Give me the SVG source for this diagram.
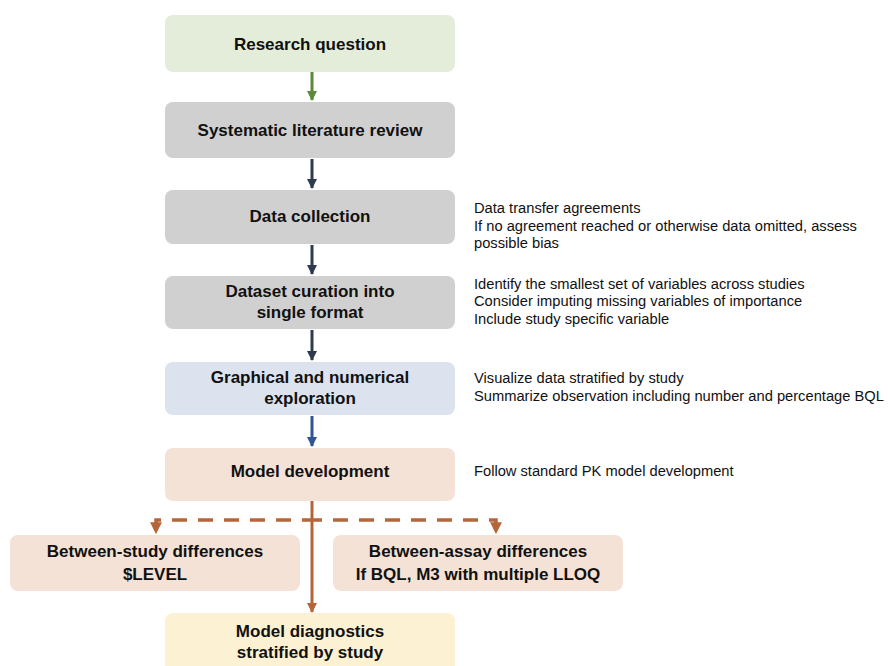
<svg xmlns="http://www.w3.org/2000/svg" width="888" height="666" viewBox="0 0 888 666">
<defs>
<style>
.box{stroke:none}
.t{font-family:"Liberation Sans",Arial,sans-serif;font-weight:bold;font-size:17px;fill:#111;text-anchor:middle}
.n{font-family:"Liberation Sans",Arial,sans-serif;font-size:14.7px;fill:#111}
.g{fill:#e3edd9}.gr{fill:#d0d0d0}.b{fill:#dce3ee}.p{fill:#f5e2d6}.y{fill:#fcf1d2}
</style>
<marker id="ag" viewBox="0 0 10 10" refX="9" refY="5" markerWidth="3.4" markerHeight="3.4" orient="auto" markerUnits="strokeWidth"><path d="M0,0L10,5L0,10z" fill="#5a8a3a"/></marker>
<marker id="ad" viewBox="0 0 10 10" refX="9" refY="5" markerWidth="3.4" markerHeight="3.4" orient="auto" markerUnits="strokeWidth"><path d="M0,0L10,5L0,10z" fill="#2e3a4f"/></marker>
<marker id="ab" viewBox="0 0 10 10" refX="9" refY="5" markerWidth="3.4" markerHeight="3.4" orient="auto" markerUnits="strokeWidth"><path d="M0,0L10,5L0,10z" fill="#2f5597"/></marker>
<marker id="ao" viewBox="0 0 10 10" refX="9" refY="5" markerWidth="3.4" markerHeight="3.4" orient="auto" markerUnits="strokeWidth"><path d="M0,0L10,5L0,10z" fill="#b5653a"/></marker>
</defs>
<rect width="888" height="666" fill="#ffffff"/>
<g id="connectors" fill="none" stroke-width="3">
<path d="M312,72V100" stroke="#5a8a3a" marker-end="url(#ag)"/>
<path d="M312,159V188" stroke="#2e3a4f" marker-end="url(#ad)"/>
<path d="M312,245V274" stroke="#2e3a4f" marker-end="url(#ad)"/>
<path d="M312,330V360" stroke="#2e3a4f" marker-end="url(#ad)"/>
<path d="M312,416V446" stroke="#2f5597" marker-end="url(#ab)"/>
<path d="M312,501V612" stroke="#b5653a" marker-end="url(#ao)"/>
<path d="M312,520H156V533" stroke="#b5653a" stroke-width="3.5" stroke-dasharray="15 11" stroke-dashoffset="5" marker-end="url(#ao)"/>
<path d="M312,520H496V533" stroke="#b5653a" stroke-width="3.5" stroke-dasharray="15 11" stroke-dashoffset="5" marker-end="url(#ao)"/>
</g>
<g id="research"><rect class="box g" x="165" y="15" width="290" height="57" rx="8"/><text class="t" x="310" y="50">Research question</text></g>
<g id="review"><rect class="box gr" x="165" y="102" width="290" height="56" rx="8"/><text class="t" x="310" y="136">Systematic literature review</text></g>
<g id="collection"><rect class="box gr" x="165" y="190" width="290" height="54" rx="8"/><text class="t" x="310" y="222">Data collection</text>
<text class="n" x="474" y="213">Data transfer agreements</text>
<text class="n" x="474" y="231">If no agreement reached or otherwise data omitted, assess</text>
<text class="n" x="474" y="248">possible bias</text></g>
<g id="curation"><rect class="box gr" x="165" y="276" width="290" height="53" rx="8"/><text class="t" x="310" y="297">Dataset curation into</text><text class="t" x="310" y="318">single format</text>
<text class="n" x="474" y="289">Identify the smallest set of variables across studies</text>
<text class="n" x="474" y="306">Consider imputing missing variables of importance</text>
<text class="n" x="474" y="324">Include study specific variable</text></g>
<g id="exploration"><rect class="box b" x="165" y="362" width="290" height="53" rx="8"/><text class="t" x="310" y="383">Graphical and numerical</text><text class="t" x="310" y="404">exploration</text>
<text class="n" x="474" y="383">Visualize data stratified by study</text>
<text class="n" x="474" y="401">Summarize observation including number and percentage BQL</text></g>
<g id="development"><rect class="box p" x="165" y="448" width="290" height="53" rx="8"/><text class="t" x="310" y="477">Model development</text>
<text class="n" x="474" y="476">Follow standard PK model development</text></g>
<g id="between-study"><rect class="box p" x="10" y="535" width="290" height="56" rx="8"/><text class="t" x="155" y="557">Between-study differences</text><text class="t" x="155" y="580">$LEVEL</text></g>
<g id="between-assay"><rect class="box p" x="333" y="535" width="290" height="56" rx="8"/><text class="t" x="478" y="557">Between-assay differences</text><text class="t" x="478" y="580">If BQL, M3 with multiple LLOQ</text></g>
<g id="diagnostics"><rect class="box y" x="165" y="613" width="290" height="60" rx="8"/><text class="t" x="310" y="637">Model diagnostics</text><text class="t" x="310" y="658">stratified by study</text></g>
</svg>
